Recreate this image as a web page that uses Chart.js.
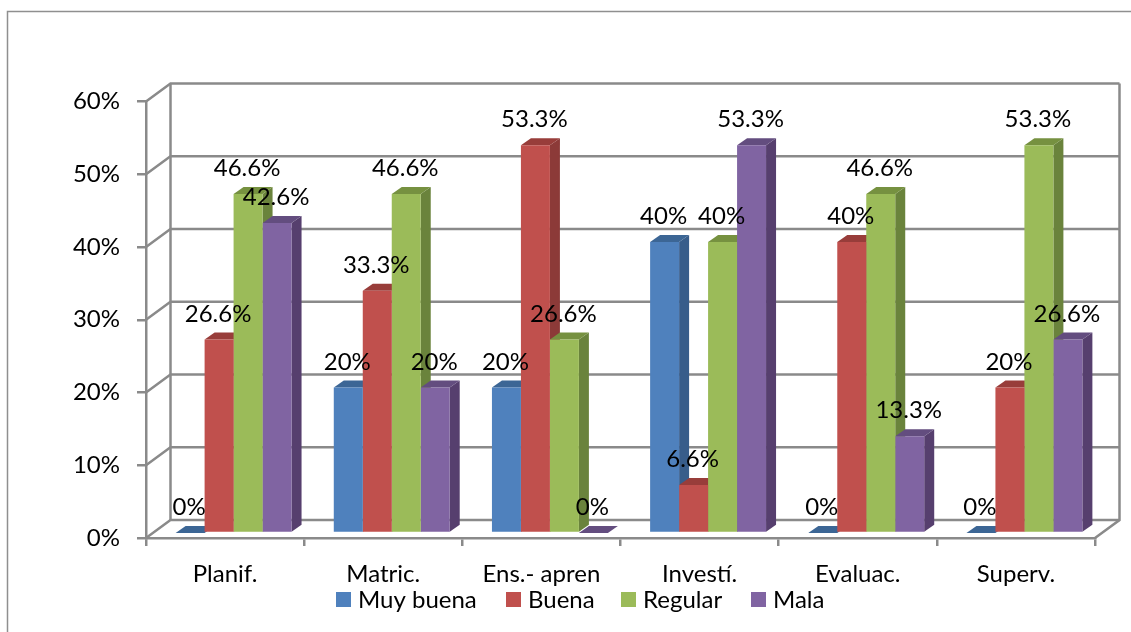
<!DOCTYPE html>
<html>
<head>
<meta charset="utf-8">
<title>Chart</title>
<script src="https://cdn.jsdelivr.net/npm/chart.js@4/dist/chart.umd.js"></script>
<style>
  html, body { margin: 0; padding: 0; background: #fff; }
  canvas { display: block; }
</style>
</head>
<body>
<canvas id="chart" width="1131" height="632"></canvas>
<script>
var categories = ['Planif.', 'Matric.', 'Ens.- apren', 'Investí.', 'Evaluac.', 'Superv.'];
var muyBuena = [0, 20, 20, 40, 0, 0];
var buena = [26.6, 33.3, 53.3, 6.6, 40, 20];
var regular = [46.6, 46.6, 26.6, 40, 46.6, 53.3];
var mala = [42.6, 20, 0, 53.3, 13.3, 26.6];
var yTicks = [0, 10, 20, 30, 40, 50, 60];

var FONT = 'Lato';
var FONT_SIZE = 24;
var WALL = '#8a8a8a';
// bars stand a little behind the front axis, walls further back
var BAR_DX = 8.5, BAR_DY = -5;
var DEPTH_DX = 10, DEPTH_DY = -7;
var WALL_DX = 24.5, WALL_DY = -18;
var LEGEND_X = [336, 506, 621, 751];

var sides = {
    '#4F81BD': { top: '#3C6695', side: '#385D8A' },
    '#C0504D': { top: '#983D3A', side: '#8C3A38' },
    '#9BBB59': { top: '#769140', side: '#6A833C' },
    '#8064A2': { top: '#634D7F', side: '#563F6E' }
};

// back wall, side wall and floor, placed from the value scale
var walls = {
    id: 'walls',
    beforeDatasetsDraw: function (chart) {
        var ctx = chart.ctx, y = chart.scales.y, a = chart.chartArea;
        ctx.save();
        ctx.strokeStyle = WALL;
        ctx.lineWidth = 2.5;
        yTicks.forEach(function (t) {
            var py = y.getPixelForValue(t);
            ctx.beginPath();
            ctx.moveTo(a.left, py);
            ctx.lineTo(a.left + WALL_DX, py + WALL_DY);
            ctx.lineTo(a.right + WALL_DX, py + WALL_DY);
            ctx.stroke();
        });
        var top = y.getPixelForValue(60) + WALL_DY, bottom = y.getPixelForValue(0) + WALL_DY;
        ctx.beginPath();
        ctx.moveTo(a.left + WALL_DX, top);
        ctx.lineTo(a.left + WALL_DX, bottom);
        ctx.moveTo(a.right + WALL_DX, top);
        ctx.lineTo(a.right + WALL_DX, bottom);
        ctx.lineTo(a.right, y.getPixelForValue(0));
        ctx.stroke();
        ctx.restore();
    }
};

// depth faces of the bars, left to right; the library paints the fronts over them
var depth = {
    id: 'depth',
    beforeDatasetsDraw: function (chart) {
        var ctx = chart.ctx;
        ctx.save();
        ctx.translate(BAR_DX, BAR_DY);
        categories.forEach(function (name, j) {
            chart.data.datasets.forEach(function (ds, i) {
                var bar = chart.getDatasetMeta(i).data[j];
                var c = sides[ds.backgroundColor];
                var l = bar.x - bar.width / 2, r = bar.x + bar.width / 2;
                ctx.fillStyle = c.side;
                ctx.beginPath();
                ctx.moveTo(r, bar.y);
                ctx.lineTo(r + DEPTH_DX, bar.y + DEPTH_DY);
                ctx.lineTo(r + DEPTH_DX, bar.base + DEPTH_DY);
                ctx.lineTo(r, bar.base);
                ctx.closePath();
                ctx.fill();
                ctx.fillStyle = c.top;
                ctx.beginPath();
                ctx.moveTo(l, bar.y);
                ctx.lineTo(l + DEPTH_DX, bar.y + DEPTH_DY);
                ctx.lineTo(r + DEPTH_DX, bar.y + DEPTH_DY);
                ctx.lineTo(r, bar.y);
                ctx.closePath();
                ctx.fill();
            });
        });
        ctx.restore();
    },
    beforeDatasetDraw: function (chart) {
        chart.ctx.save();
        chart.ctx.translate(BAR_DX, BAR_DY);
    },
    afterDatasetDraw: function (chart) {
        chart.ctx.restore();
    }
};

// page frame, value labels above the bars and the legend row
var labels = {
    id: 'labels',
    beforeDraw: function (chart) {
        var ctx = chart.ctx;
        ctx.save();
        ctx.strokeStyle = '#8f8f8f';
        ctx.lineWidth = 1.5;
        ctx.beginPath();
        ctx.moveTo(7.5, 632);
        ctx.lineTo(7.5, 11.5);
        ctx.lineTo(1131, 11.5);
        ctx.stroke();
        ctx.restore();
    },
    afterDatasetsDraw: function (chart) {
        var ctx = chart.ctx;
        ctx.save();
        ctx.font = FONT_SIZE + 'px ' + FONT;
        ctx.fillStyle = '#000';
        ctx.textAlign = 'center';
        ctx.textBaseline = 'middle';
        chart.data.datasets.forEach(function (ds, i) {
            chart.getDatasetMeta(i).data.forEach(function (bar, j) {
                ctx.fillText(ds.data[j] + '%', bar.x + BAR_DX - 1, bar.y + BAR_DY - 25.5);
            });
        });
        ctx.textAlign = 'left';
        chart.data.datasets.forEach(function (ds, i) {
            ctx.fillStyle = ds.backgroundColor;
            ctx.fillRect(LEGEND_X[i], 592, 15, 15);
            ctx.fillStyle = '#000';
            ctx.fillText(ds.label, LEGEND_X[i] + 22, 600);
        });
        ctx.restore();
    }
};

new Chart(document.getElementById('chart').getContext('2d'), {
    type: 'bar',
    data: {
        labels: categories,
        datasets: [
            { label: 'Muy buena', data: muyBuena, backgroundColor: '#4F81BD' },
            { label: 'Buena', data: buena, backgroundColor: '#C0504D' },
            { label: 'Regular', data: regular, backgroundColor: '#9BBB59' },
            { label: 'Mala', data: mala, backgroundColor: '#8064A2' }
        ]
    },
    plugins: [walls, depth, labels],
    options: {
        responsive: false,
        animation: false,
        layout: { padding: { left: 0, right: 36, top: 101.5, bottom: 24 } },
        datasets: { bar: { barPercentage: 1, categoryPercentage: 0.733 } },
        plugins: {
            tooltip: { enabled: false },
            legend: { display: false }
        },
        scales: {
            x: {
                afterFit: function (s) { s.height = 70; },
                grid: { drawOnChartArea: false, color: WALL, lineWidth: 2.5, tickLength: 8 },
                border: { color: WALL, width: 2.5 },
                ticks: { color: '#000', padding: 14, maxRotation: 0, font: { family: FONT, size: FONT_SIZE } }
            },
            y: {
                min: 0,
                max: 60,
                afterFit: function (s) { s.width = 146; },
                afterBuildTicks: function (s) {
                    s.ticks = yTicks.map(function (v) { return { value: v }; });
                },
                grid: { drawOnChartArea: false, color: WALL, lineWidth: 2.5, tickLength: 9 },
                border: { color: WALL, width: 2.5 },
                ticks: {
                    color: '#000',
                    padding: 17,
                    font: { family: FONT, size: FONT_SIZE },
                    callback: function (v) { return v + '%'; }
                }
            }
        }
    }
});
</script>
</body>
</html>
